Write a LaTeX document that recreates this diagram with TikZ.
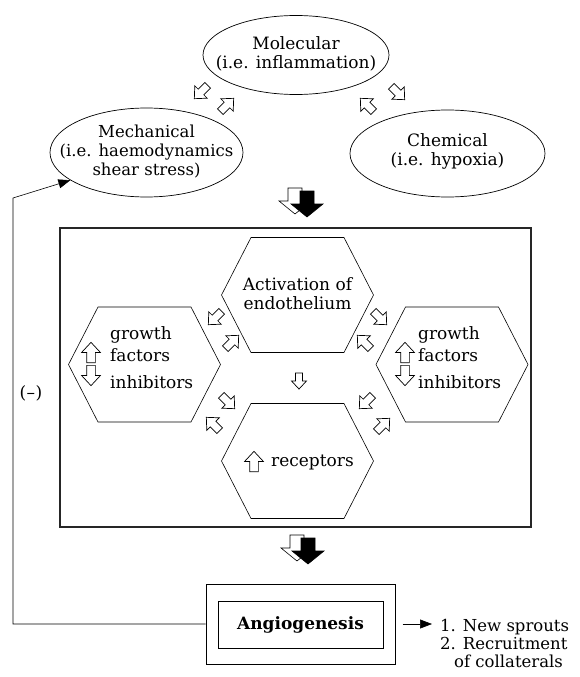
\documentclass[tikz,border=0pt]{standalone}
\usepackage{fontspec}
\setmainfont{DejaVu Serif}
\usetikzlibrary{arrows.meta,shapes.geometric}
\newcommand\fsz{\fontsize{17}{19}\selectfont}
\tikzset{
  txt/.style={font=\fsz, inner sep=0pt},
  harr/.style={draw=black, fill=white, line width=0.7pt, line join=miter},
  hexline/.style={line width=0.6pt},
  ellbox/.style={ellipse, draw, line width=0.7pt, inner sep=0pt},
  tipA/.style={-{Triangle[length=12pt,width=9pt]}},
}
% hollow small arrow: [scale]{x,y}{angle}
\newcommand\hollowarr[3][1.35]{\draw[harr, shift={(#2)}, rotate=#3, scale=#1] (-7,-3) -- (0,-3) -- (0,-6.5) -- (7,0) -- (0,6.5) -- (0,3) -- (-7,3) -- cycle;}
% big down arrow: {x,y top}{fill}
\newcommand\bigarr[2]{\draw[line width=0.6pt, fill=#2, shift={(#1)}] (-7,0) -- (7,0) -- (7,13) -- (16,13) -- (0,26) -- (-16,13) -- (-7,13) -- cycle;}
% hexagon: {cx,cy}
\newcommand\hexa[1]{\draw[hexline, shift={(#1)}] (-76,0) -- (-46.5,-57.5) -- (46.5,-57.5) -- (76,0) -- (46.5,57.5) -- (-46.5,57.5) -- cycle;}
\begin{document}
\begin{tikzpicture}[x=1pt,y=-1pt]
\useasboundingbox (0,0) rectangle (579,677);

% ellipses
\node[ellbox, minimum width=186pt, minimum height=79pt] (mol) at (296,55) {};
\node[txt, align=center] (moltxt) at (296,54) {Molecular\\(i.e. inflammation)};
\node[ellbox, minimum width=193pt, minimum height=89pt] (mech) at (146.5,152.5) {};
\node[txt, align=center, font=\fontsize{16.5}{19}\selectfont] (mechtxt) at (146.5,152) {Mechanical\\(i.e. haemodynamics\\shear stress)};
\node[ellbox, minimum width=195pt, minimum height=87pt] (chem) at (447.5,153.5) {};
\node[txt, align=center] (chemtxt) at (447.5,151) {Chemical\\(i.e. hypoxia)};

\hollowarr{201,92}{225}
\hollowarr{227,105}{45}
\hollowarr{398,93}{315}
\hollowarr{367,105}{135}

% big arrows top
\bigarr{295,188}{white}
\bigarr{307,191}{black}

% main box
\node[draw=black!85, line width=1.1pt, minimum width=471pt, minimum height=299pt, inner sep=0pt] (mainbox) at (295.5,377.5) {};

% hexagons
\hexa{297.5,295}
\hexa{144.5,364.5}
\hexa{452,364.5}
\hexa{297.5,461}

\node[txt, align=center] (act) at (297.5,294) {Activation of\\endothelium};

\node[txt, anchor=west] (lg) at (110,335) {growth};
\node[txt, anchor=west] (lf) at (110,355) {factors};
\node[txt, anchor=west] (li) at (110,382) {inhibitors};
\hollowarr[1.45]{91,352.5}{90}
\hollowarr[1.45]{91,375.5}{270}

\node[txt, anchor=west] (rg) at (418,335) {growth};
\node[txt, anchor=west] (rf) at (418,355) {factors};
\node[txt, anchor=west] (ri) at (418,382) {inhibitors};
\hollowarr[1.45]{405,352.5}{90}
\hollowarr[1.45]{405,375.5}{270}

\node[txt, anchor=west] (rec) at (271,462) {receptors};
\hollowarr[1.45]{254,461.5}{90}

% arrows in box
\hollowarr{215,318}{225}
\hollowarr{232,342}{45}
\hollowarr{228,402}{315}
\hollowarr{213,424}{135}
\hollowarr{380,318}{315}
\hollowarr{364,342}{135}
\hollowarr{366,402}{225}
\hollowarr{383,425}{45}
\hollowarr[1.15]{299,381}{270}

% big arrows bottom
\bigarr{297,535}{white}
\bigarr{308,538}{black}

% angiogenesis
\node[draw, line width=1pt, minimum width=189pt, minimum height=80pt, inner sep=0pt] (outer) at (300.5,624) {};
\node[draw, line width=1pt, minimum width=165pt, minimum height=47pt, font=\fsz\bfseries] (angio) at (300.5,624.5) {Angiogenesis};

% feedback
\coordinate (fb1) at (13,624);
\coordinate (fb2) at (13,198);
\draw[line width=0.6pt, tipA] (outer.west) -- (fb1) -- (fb2) -- (mech.200);
\node[txt] (neg) at (31,393) {(\kern0.5pt–\kern0.5pt)};

% outcome
\coordinate (rtip) at (432,624);
\draw[line width=0.6pt, tipA] ([xshift=7pt]outer.east) -- (rtip);
\node[txt, align=left, anchor=west, font=\fontsize{16.5}{18}\selectfont] (outcome) at (440,643) {1. New sprouts\\2. Recruitment\\\hspace*{14pt}of collaterals};
\end{tikzpicture}
\end{document}
